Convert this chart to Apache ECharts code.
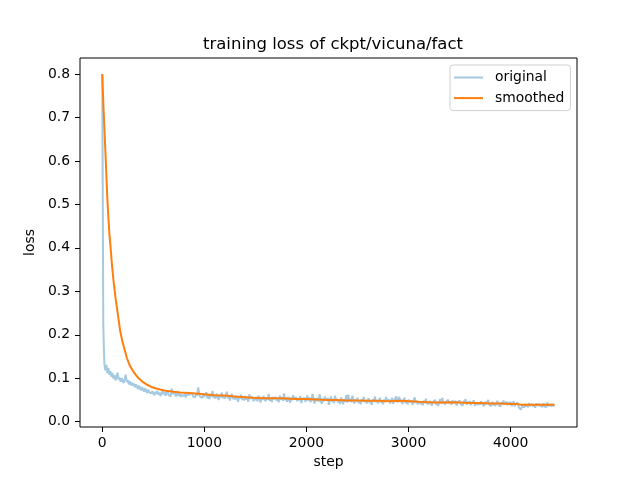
<!DOCTYPE html>
<html>
<head>
<meta charset="utf-8">
<script src="https://cdn.jsdelivr.net/npm/echarts@6/dist/echarts.min.js"></script>
<style>html,body{margin:0;padding:0;background:#fff}#c{width:640px;height:480px}</style>
</head>
<body>
<div id="c"></div>
<script>
const titleText = 'training loss of ckpt/vicuna/fact';
const xTicks = [0, 1000, 2000, 3000, 4000];
const yTicks = [0.0, 0.1, 0.2, 0.3, 0.4, 0.5, 0.6, 0.7, 0.8];
const logInterval = 10; // steps between logged original points
const originalLoss = [
0.800,0.225,0.135,0.118,0.131,0.112,0.124,0.108,0.116,0.103,
0.112,0.099,0.107,0.095,0.104,0.113,0.097,0.102,0.092,0.100,
0.094,0.089,0.098,0.108,0.091,0.096,0.086,0.093,0.084,0.090,
0.083,0.088,0.079,0.086,0.081,0.075,0.083,0.077,0.072,0.080,
0.074,0.069,0.077,0.071,0.066,0.074,0.068,0.072,0.065,0.070,
0.066,0.061,0.069,0.064,0.071,0.062,0.067,0.059,0.065,0.070,
0.063,0.068,0.060,0.066,0.072,0.061,0.065,0.058,0.076,0.064,
0.060,0.067,0.058,0.063,0.069,0.059,0.064,0.057,0.062,0.066,
0.059,0.064,0.056,0.068,0.061,0.057,0.063,0.059,0.066,0.058,
0.062,0.056,0.065,0.060,0.079,0.063,0.057,0.061,0.055,0.064,
0.057,0.063,0.068,0.054,0.061,0.052,0.064,0.058,0.071,0.055,
0.061,0.053,0.065,0.058,0.050,0.062,0.056,0.067,0.054,0.060,
0.053,0.061,0.069,0.054,0.059,0.049,0.058,0.064,0.052,0.057,
0.051,0.060,0.055,0.046,0.058,0.053,0.062,0.050,0.057,0.049,
0.059,0.051,0.056,0.046,0.063,0.053,0.049,0.058,0.047,0.055,
0.050,0.057,0.047,0.060,0.053,0.044,0.056,0.050,0.059,0.052,
0.047,0.056,0.051,0.064,0.048,0.055,0.045,0.057,0.052,0.049,
0.057,0.048,0.054,0.045,0.060,0.051,0.056,0.048,0.065,0.050,
0.055,0.046,0.057,0.051,0.044,0.056,0.049,0.061,0.052,0.048,
0.056,0.047,0.054,0.049,0.059,0.043,0.052,0.048,0.055,0.046,
0.053,0.060,0.048,0.056,0.045,0.051,0.064,0.049,0.042,0.054,
0.048,0.055,0.046,0.063,0.050,0.041,0.053,0.047,0.058,0.049,
0.045,0.054,0.039,0.050,0.058,0.046,0.052,0.043,0.060,0.048,
0.053,0.044,0.050,0.041,0.056,0.048,0.040,0.052,0.046,0.061,
0.044,0.062,0.047,0.053,0.045,0.060,0.049,0.042,0.052,0.046,
0.055,0.043,0.049,0.040,0.052,0.046,0.057,0.045,0.050,0.042,
0.049,0.054,0.043,0.048,0.039,0.052,0.046,0.058,0.045,0.050,
0.042,0.048,0.055,0.044,0.049,0.040,0.051,0.045,0.057,0.047,
0.043,0.051,0.042,0.048,0.055,0.041,0.049,0.045,0.058,0.044,
0.048,0.057,0.045,0.050,0.041,0.049,0.055,0.043,0.048,0.040,
0.051,0.045,0.042,0.049,0.039,0.047,0.056,0.043,0.048,0.040,
0.046,0.050,0.041,0.047,0.038,0.049,0.043,0.053,0.042,0.046,
0.041,0.048,0.043,0.037,0.046,0.042,0.050,0.039,0.045,0.036,
0.044,0.052,0.041,0.055,0.045,0.049,0.040,0.047,0.043,0.050,
0.042,0.047,0.039,0.049,0.043,0.040,0.048,0.037,0.045,0.042,
0.049,0.041,0.045,0.037,0.046,0.042,0.051,0.039,0.044,0.041,
0.047,0.038,0.044,0.041,0.049,0.036,0.043,0.046,0.039,0.044,
0.039,0.047,0.041,0.044,0.036,0.046,0.040,0.043,0.050,0.039,
0.043,0.036,0.046,0.040,0.044,0.037,0.042,0.048,0.039,0.043,
0.035,0.045,0.039,0.049,0.040,0.036,0.046,0.038,0.043,0.039,
0.045,0.036,0.042,0.047,0.035,0.041,0.038,0.044,0.033,0.035,
0.028,0.034,0.039,0.032,0.041,0.035,0.040,0.033,0.043,0.036,
0.034,0.041,0.035,0.040,0.032,0.042,0.037,0.034,0.041,0.035,
0.040,0.033,0.042,0.035,0.038,0.034,0.044,0.036,0.033,0.040,
0.035,0.041,0.036,0.038
];
const smoothedSteps = [0,10,20,30,40,50,60,70,80,95,110,130,150,176,200,220,242,270,300,330,356,400,438,480,520,569,620,700,765,850,912,1000,1100,1200,1300,1370,1467,1600,1745,1900,2000,2100,2200,2300,2400,2500,2600,2700,2800,2922,3020,3100,3200,3300,3400,3500,3600,3700,3800,3900,4000,4060,4100,4200,4300,4430];
const smoothedLoss = [0.800,0.735,0.680,0.625,0.570,0.512,0.470,0.432,0.405,0.361,0.325,0.285,0.252,0.208,0.182,0.165,0.146,0.129,0.117,0.107,0.100,0.091,0.085,0.080,0.077,0.074,0.071,0.069,0.067,0.066,0.065,0.063,0.061,0.060,0.058,0.057,0.055,0.054,0.054,0.052,0.052,0.051,0.050,0.050,0.049,0.049,0.048,0.048,0.047,0.048,0.047,0.046,0.045,0.044,0.045,0.044,0.043,0.043,0.042,0.042,0.041,0.041,0.039,0.039,0.039,0.039];

const origData = originalLoss.map((v, i) => [i * logInterval, v]);
const smoothData = smoothedSteps.map((s, i) => [s, smoothedLoss[i]]);

const FONT = 'DejaVu Sans';
const chart = echarts.init(document.getElementById('c'), null, {renderer: 'canvas'});
chart.setOption({
  animation: false,
  backgroundColor: '#fff',
  textStyle: {fontFamily: FONT, color: '#000'},
  title: {
    text: titleText,
    left: 328,
    top: 31,
    textAlign: 'center',
    textStyle: {fontFamily: FONT, fontSize: 16.5, fontWeight: 'normal', color: '#000'}
  },
  legend: {
    left: 450, top: 65,
    orient: 'vertical',
    itemWidth: 29, itemHeight: 2,
    itemGap: 6.6,
    padding: [5.5, 6, 5.5, 4],
    borderColor: '#d0d0d0', borderWidth: 1, borderRadius: 3,
    backgroundColor: 'rgba(255,255,255,0.8)',
    textStyle: {fontFamily: FONT, fontSize: 13.9, color: '#000', padding: [0, 0, 0, 7], lineHeight: 14},
    data: [
      {name: 'original', icon: 'rect', itemStyle: {color: 'rgba(31,119,180,0.4)'}},
      {name: 'smoothed', icon: 'rect', itemStyle: {color: '#ff7f0e'}}
    ]
  },
  grid: {left: 80, right: 63, top: 58, bottom: 53, show: true, borderColor: '#000', borderWidth: 1, backgroundColor: 'transparent'},
  xAxis: {
    type: 'value', min: -218, max: 4650,
    name: 'step', nameLocation: 'middle', nameGap: 27,
    nameTextStyle: {fontFamily: FONT, fontSize: 13.9, color: '#000'},
    axisLine: {show: false, onZero: false},
    splitLine: {show: false},
    axisTick: {show: true, inside: false, length: 5, lineStyle: {color: '#000', width: 1}, customValues: xTicks},
    axisLabel: {fontFamily: FONT, fontSize: 13.9, color: '#000', margin: 9, customValues: xTicks, formatter: v => String(Math.round(v))}
  },
  yAxis: {
    type: 'value', min: -0.0122, max: 0.8368,
    name: 'loss', nameLocation: 'middle', nameGap: 37, nameRotate: 90,
    nameTextStyle: {fontFamily: FONT, fontSize: 13.9, color: '#000'},
    axisLine: {show: false, onZero: false},
    splitLine: {show: false},
    axisTick: {show: true, inside: false, length: 5, lineStyle: {color: '#000', width: 1}, customValues: yTicks},
    axisLabel: {fontFamily: FONT, fontSize: 13.9, color: '#000', margin: 10, customValues: yTicks, formatter: v => v.toFixed(1)}
  },
  series: [
    {
      name: 'original', type: 'line', data: origData, showSymbol: false, symbol: 'none',
      lineStyle: {color: 'rgba(31,119,180,0.4)', width: 2},
      itemStyle: {color: 'rgba(31,119,180,0.4)'},
      z: 2
    },
    {
      name: 'smoothed', type: 'line', data: smoothData, showSymbol: false, symbol: 'none',
      lineStyle: {color: '#ff7f0e', width: 2},
      itemStyle: {color: '#ff7f0e'},
      z: 3
    }
  ]
});
</script>
</body>
</html>
